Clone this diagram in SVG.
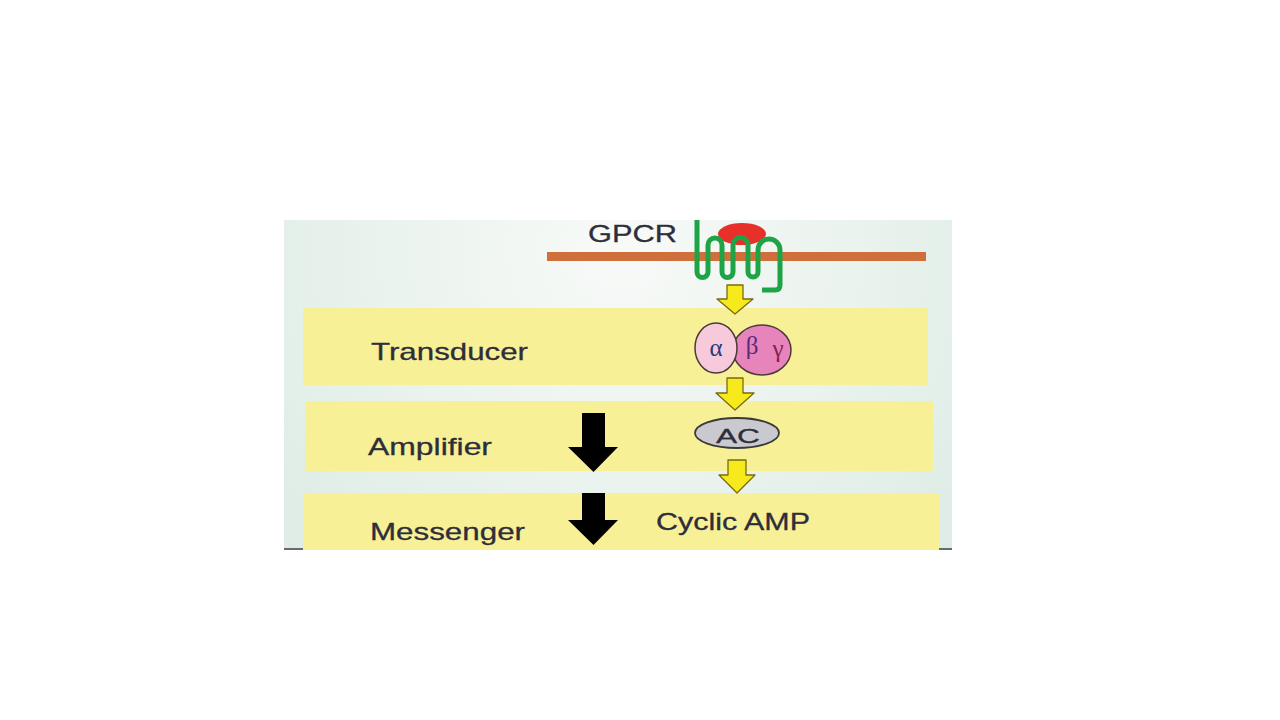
<svg xmlns="http://www.w3.org/2000/svg" width="1280" height="720" viewBox="0 0 1280 720">
<defs>
<radialGradient id="bg" cx="620" cy="250" r="420" gradientUnits="userSpaceOnUse">
<stop offset="0" stop-color="#f8faf8"/>
<stop offset="1" stop-color="#dfede6"/>
</radialGradient>
<style>
.band{fill:#f8f096}
.lbl{font-family:"Liberation Sans",Arial,sans-serif;fill:#2e2e3a;stroke:#2e2e3a;stroke-width:0.3}
.yarrow{fill:#f7ea1c;stroke:#7a6a10;stroke-width:1.3;stroke-linejoin:round}
.barrow{fill:#000}
.greek{font-family:"Liberation Serif","DejaVu Serif",serif;font-size:25px}
</style>
</defs>
<rect width="1280" height="720" fill="#ffffff"/>
<rect x="284" y="220" width="668" height="330" fill="url(#bg)"/>
<line x1="284" y1="549" x2="952" y2="549" stroke="#6a6a6a" stroke-width="2"/>

<g id="band-transducer">
<rect class="band" x="303" y="308" width="625" height="77"/>
<text class="lbl" x="371" y="360" font-size="24" textLength="157" lengthAdjust="spacingAndGlyphs">Transducer</text>
</g>
<g id="band-amplifier">
<rect class="band" x="305" y="401" width="628" height="70"/>
<text class="lbl" x="368" y="455" font-size="24" textLength="124" lengthAdjust="spacingAndGlyphs">Amplifier</text>
</g>
<g id="band-messenger">
<rect class="band" x="303" y="493" width="636" height="57"/>
<text class="lbl" x="370" y="540" font-size="24" textLength="155" lengthAdjust="spacingAndGlyphs">Messenger</text>
</g>

<g id="membrane">
<rect x="547" y="252" width="379" height="9" fill="#cf6f3c"/>
</g>

<g id="gpcr">
<text class="lbl" x="588" y="242" font-size="23" textLength="89" lengthAdjust="spacingAndGlyphs">GPCR</text>
<ellipse cx="742" cy="234" rx="24" ry="11" fill="#e8302a"/>
<path d="M697,220 V272 a5.5,5.5 0 0 0 11,0 V245 a7,7 0 0 1 14,0 V272 a5.5,5.5 0 0 0 11,0 V245 a7.5,7.5 0 0 1 15,0 V272 a5,5 0 0 0 10,0 V250 a11,11 0 0 1 22,0 V285 q0,5 -5,5 H762" fill="none" stroke="#1fa347" stroke-width="5" stroke-linejoin="round"/>
</g>

<g id="g-protein">
<ellipse cx="762" cy="350" rx="29" ry="25" fill="#e884bc" stroke="#4a3a3a" stroke-width="1.5"/>
<ellipse cx="716" cy="348" rx="21" ry="25" fill="#f6cadb" stroke="#4a3a3a" stroke-width="1.5"/>
<text class="greek" x="716" y="356" text-anchor="middle" fill="#2a3a7a">α</text>
<text class="greek" x="752" y="354" text-anchor="middle" fill="#5a2a7a">β</text>
<text class="greek" x="778" y="357" text-anchor="middle" fill="#8a2050">γ</text>
</g>

<g id="ac">
<ellipse cx="737" cy="433" rx="42" ry="15" fill="#c9c9cf" stroke="#3a3a3a" stroke-width="1.8"/>
<text class="lbl" x="716" y="443" font-size="21" textLength="44" lengthAdjust="spacingAndGlyphs">AC</text>
</g>

<g id="camp">
<text class="lbl" x="656" y="530" font-size="24" textLength="154" lengthAdjust="spacingAndGlyphs">Cyclic AMP</text>
</g>

<g id="connectors">
<polygon class="yarrow" points="727,285 743,285 743,299 753,299 735,314 717,299 727,299"/>
<polygon class="yarrow" points="727,378 743,378 743,393 754,393 735,410 716,393 727,393"/>
<polygon class="yarrow" points="728,460 746,460 746,475 755,475 737,493 719,475 728,475"/>
<polygon class="barrow" points="582,413 605,413 605,447 618,447 593.5,472 568,447 582,447"/>
<polygon class="barrow" points="582,493 605,493 605,520 618,520 593.5,545 568,520 582,520"/>
</g>
</svg>
